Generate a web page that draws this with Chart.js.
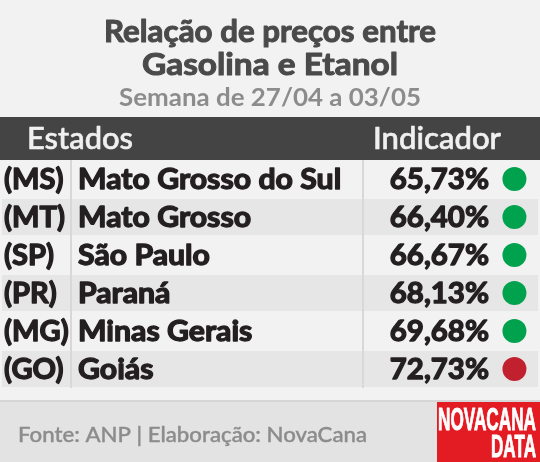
<!DOCTYPE html>
<html><head><meta charset="utf-8">
<script src="https://cdn.jsdelivr.net/npm/chart.js@4"></script>
<style>html,body{margin:0;padding:0;background:#f2f2f2}#w{width:540px;height:462px}</style>
</head><body><div id="w"><canvas id="c"></canvas></div>
<script>
const siglas = ['(MS)','(MT)','(SP)','(PR)','(MG)','(GO)'];
const estados = ['Mato Grosso do Sul','Mato Grosso','São Paulo','Paraná','Minas Gerais','Goiás'];
const indicador = [65.73,66.40,66.67,68.13,69.68,72.73];
const limite = 70;
const titulo = ['Relação de preços entre','Gasolina e Etanol'];
const subtitulo = 'Semana de 27/04 a 03/05';
const fonte = 'Fonte: ANP | Elaboração: NovaCana';

const F = 'Lato, "Noto Sans", sans-serif';
const fmt = v => v.toFixed(2).replace('.',',') + '%';

function fitText(ctx, txt, x, y, w, stroke){
  const m = ctx.measureText(txt).width;
  ctx.save(); ctx.translate(x,y); ctx.scale(w/m,1);
  if(stroke){ctx.lineWidth=stroke; ctx.strokeStyle=ctx.fillStyle; ctx.lineJoin='round'; ctx.strokeText(txt,0,0);}
  ctx.fillText(txt,0,0); ctx.restore();
}
function heavy(ctx, txt, x, y, k){
  const m = ctx.measureText(txt).width;
  fitText(ctx, txt, x, y, m*k, 1.3);
}

const tablePlugin = {
  id:'table',
  beforeDatasetsDraw(chart){
    const ctx = chart.ctx, y = chart.scales.y, W = chart.width;
    ctx.save();
    ctx.fillStyle='#f2f2f2'; ctx.fillRect(0,0,W,chart.height);
    ctx.fillStyle='#4a4a4a'; ctx.textAlign='center'; ctx.textBaseline='alphabetic';
    ctx.font='bold 30px '+F;
    fitText(ctx,titulo[0],W/2,42,332,1); fitText(ctx,titulo[1],W/2,75,256,1);
    ctx.fillStyle='#8c8c8c'; ctx.font='bold 24px '+F;
    fitText(ctx,subtitulo,W/2,106,302);
    // header
    ctx.fillStyle='#444444'; ctx.fillRect(0,117,W,43);
    ctx.fillStyle='#f0f0f0'; ctx.font='500 30px '+F;
    ctx.textAlign='left'; fitText(ctx,'Estados',27,149,106,0.6);
    ctx.textAlign='right'; fitText(ctx,'Indicador',501,149,128,0.6);
    const step = Math.abs(y.getPixelForValue(1)-y.getPixelForValue(0));
    siglas.forEach((s,i)=>{
      const cy = y.getPixelForValue(i);
      if(i%2===1){ctx.fillStyle='#e6e6e6'; ctx.fillRect(2,cy-step/2+1,W-4,step-2);}
      ctx.fillStyle='#231f20'; ctx.font='bold 28px '+F; ctx.textBaseline='middle';
      ctx.textAlign='left'; heavy(ctx,s,4,cy+1,1.04);
      heavy(ctx,estados[i],78,cy+1,1.08);
      ctx.textAlign='right'; heavy(ctx,fmt(indicador[i]),489,cy+1,1.05);
    });
    const top=y.getPixelForValue(0)-step/2, bot=y.getPixelForValue(siglas.length-1)+step/2;
    ctx.fillStyle='#d8d8d8'; ctx.fillRect(70,top,2,bot-top); ctx.fillRect(362,top,2,bot-top);
    // footer
    ctx.fillStyle='#e3e3e3'; ctx.fillRect(0,402,W,60);
    ctx.fillStyle='#d6d6d6'; ctx.fillRect(0,400,W,2);
    ctx.fillStyle='#8c8c8c'; ctx.font='500 22px '+F; ctx.textAlign='left'; ctx.textBaseline='alphabetic';
    fitText(ctx,fonte,18,442,349,0.4);
    ctx.fillStyle='#e31b23'; ctx.fillRect(437,402,W-437,60);
    ctx.fillStyle='#ffffff'; ctx.textAlign='right';
    ctx.font='bold 32px "Liberation Sans", sans-serif';
    fitText(ctx,'NOVACANA',536,430,98,1); fitText(ctx,'DATA',536,457,45,1);
    ctx.restore();
  }
};

new Chart(document.getElementById('c'),{
  type:'scatter',
  data:{labels:siglas,datasets:[{
    data:indicador.map((v,i)=>({x:1,y:siglas[i]})),
    pointRadius:12,pointHoverRadius:12,borderWidth:0,
    backgroundColor:indicador.map(v=>v<limite?'#00a24d':'#c1202f')
  }]},
  options:{responsive:true,maintainAspectRatio:false,animation:false,
    layout:{padding:{top:160,bottom:74,left:0,right:0}},
    plugins:{legend:{display:false},tooltip:{enabled:false}},
    scales:{
      x:{type:'linear',min:0,max:1.027,display:false},
      y:{type:'category',labels:siglas,offset:true,display:false}
    }},
  plugins:[tablePlugin]
});
</script></body></html>
